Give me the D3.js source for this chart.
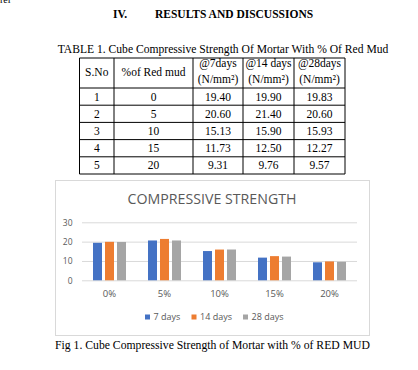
<!DOCTYPE html>
<html>
<head>
<meta charset="utf-8">
<script src="https://cdn.jsdelivr.net/npm/d3@7"></script>
<style>
  html, body { margin: 0; padding: 0; background: #fff; }
  svg { display: block; }
</style>
</head>
<body>
<svg id="page" width="418" height="370"></svg>
<script>

// data
let categories = ["0%", "5%", "10%", "15%", "20%"];
let redMud = [0, 5, 10, 15, 20];
let seriesNames = ["7 days", "14 days", "28 days"];
let days7 = [19.40, 20.60, 15.13, 11.73, 9.31];
let days14 = [19.90, 21.40, 15.90, 12.50, 9.76];
let days28 = [19.83, 20.60, 15.93, 12.27, 9.57];
let yTicks = [0, 10, 20, 30];
let colors = ["#4472C4", "#ED7D31", "#A5A5A5"];

let svg = d3.select("#page");
let serif = "'Liberation Serif', 'Times New Roman', serif";
let sans = "'Open Sans', 'Noto Sans', sans-serif";

// scrap of text from the previous page (cut at the top edge, as in the source)
svg.append("text").attr("x", 0).attr("y", 3)
    .style("font-family", serif).style("font-size", "10px").text("rel");

// section heading
svg.append("text").attr("x", 113).attr("y", 18)
    .style("font-family", serif).style("font-size", "11.5px").style("font-weight", "bold")
    .text("IV.");
svg.append("text").attr("x", 155).attr("y", 18)
    .style("font-family", serif).style("font-size", "11.5px").style("font-weight", "bold")
    .text("RESULTS AND DISCUSSIONS");

// table caption
svg.append("text").attr("x", 223).attr("y", 53).attr("text-anchor", "middle")
    .style("font-family", serif).style("font-size", "11.6px")
    .text("TABLE 1. Cube Compressive Strength Of Mortar With % Of Red Mud");

// ---- table ----
let colX = [79.5, 114, 193, 243, 294, 345];
let tableTop = 58, headBottom = 88, rowH = 17.2;
let rows = redMud.map((m, i) => [String(i + 1), String(m),
    days7[i].toFixed(2), days14[i].toFixed(2), days28[i].toFixed(2)]);
let tableBottom = headBottom + rowH * rows.length;

let tbl = svg.append("g");
tbl.selectAll("line.v").data(colX).enter().append("line")
    .attr("x1", d => d).attr("x2", d => d)
    .attr("y1", tableTop).attr("y2", tableBottom)
    .style("stroke", "#000").style("stroke-width", 1);
let hLines = [tableTop, headBottom].concat(rows.map((r, i) => headBottom + rowH * (i + 1)));
tbl.selectAll("line.h").data(hLines).enter().append("line")
    .attr("x1", colX[0]).attr("x2", colX[colX.length - 1])
    .attr("y1", d => d).attr("y2", d => d)
    .style("stroke", "#000").style("stroke-width", 1);

let colMid = i => (colX[i] + colX[i + 1]) / 2;
let headers = [["S.No"], ["%of Red mud"], ["@7days", "(N/mm²)"], ["@14 days", "(N/mm²)"], ["@28days", "(N/mm²)"]];
headers.forEach((h, i) => {
    h.forEach((line, j) => {
        let y = h.length == 1 ? 76 : 66.5 + j * 16.5;
        tbl.append("text").attr("x", colMid(i)).attr("y", y).attr("text-anchor", "middle")
            .style("font-family", serif).style("font-size", "11.5px").text(line);
    });
});
rows.forEach((r, i) => {
    r.forEach((cell, j) => {
        tbl.append("text").attr("x", colMid(j)).attr("y", headBottom + rowH * i + 12.5)
            .attr("text-anchor", "middle")
            .style("font-family", serif).style("font-size", "11.5px").text(cell);
    });
});

// ---- chart ----
svg.append("rect").attr("x", 55.5).attr("y", 180.5).attr("width", 314).attr("height", 155)
    .style("fill", "#fff").style("stroke", "#d9d9d9");

svg.append("text").attr("x", 212).attr("y", 203.5).attr("text-anchor", "middle")
    .style("font-family", sans).style("font-size", "14.2px").style("fill", "#595959")
    .text("COMPRESSIVE STRENGTH");

let plot = { left: 82, right: 357, top: 222.3, bottom: 280.3 };

let y = d3.scaleLinear().domain([0, 30]).range([plot.bottom, plot.top]);
let x0 = d3.scaleBand().domain(categories).range([plot.left, plot.right]).padding(0);
let x1 = d3.scaleBand().domain(seriesNames).range([11, 44]).paddingInner(0.25);

let yAxis = svg.append("g")
    .attr("transform", "translate(" + plot.left + ",0)")
    .call(d3.axisLeft(y).tickValues(yTicks).tickSize(-(plot.right - plot.left)).tickPadding(9.5));
yAxis.select(".domain").remove();
yAxis.selectAll(".tick line").style("stroke", "#d9d9d9");
yAxis.selectAll(".tick text").style("font-family", sans).style("font-size", "8.5px").style("fill", "#595959");

let xAxis = svg.append("g")
    .attr("transform", "translate(0," + plot.bottom + ")")
    .call(d3.axisBottom(x0).tickSize(0).tickPadding(10));
xAxis.select(".domain").remove();
xAxis.selectAll(".tick text").style("font-family", sans).style("font-size", "9.5px").style("fill", "#595959");

let seriesData = [days7, days14, days28];
let groups = svg.append("g").selectAll("g")
    .data(categories).enter().append("g")
    .attr("transform", d => "translate(" + x0(d) + ",0)");
groups.selectAll("rect")
    .data((d, i) => seriesNames.map((s, k) => ({ s: s, v: seriesData[k][i], k: k })))
    .enter().append("rect")
    .attr("x", d => x1(d.s))
    .attr("width", x1.bandwidth())
    .attr("y", d => y(d.v))
    .attr("height", d => y(0) - y(d.v))
    .style("fill", d => colors[d.k]);

// legend
let legendX = [145, 191.5, 243];
let legend = svg.append("g").selectAll("g")
    .data(seriesNames).enter().append("g")
    .attr("transform", (d, i) => "translate(" + legendX[i] + ",314.5)");
legend.append("rect").attr("width", 5).attr("height", 5).style("fill", (d, i) => colors[i]);
legend.append("text").attr("x", 8.5).attr("y", 5.8)
    .style("font-family", sans).style("font-size", "9px").style("fill", "#595959")
    .text(d => d);

// figure caption
svg.append("text").attr("x", 212.5).attr("y", 349).attr("text-anchor", "middle")
    .style("font-family", serif).style("font-size", "11.7px")
    .text("Fig 1. Cube Compressive Strength of Mortar with % of RED MUD");

</script>
</body>
</html>
